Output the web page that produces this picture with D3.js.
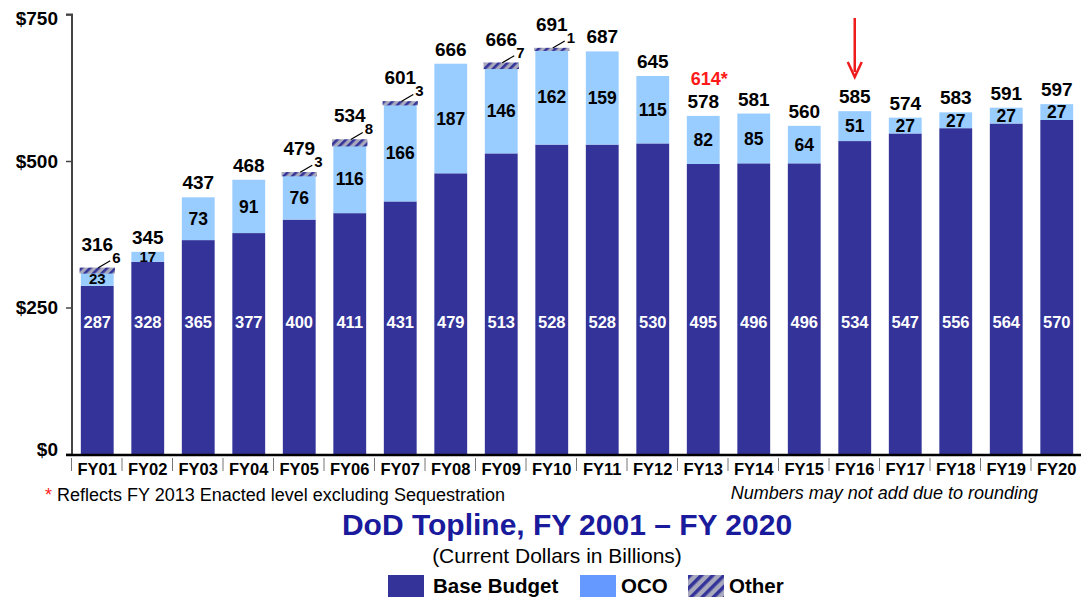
<!DOCTYPE html>
<html>
<head>
<meta charset="utf-8">
<script src="https://cdn.jsdelivr.net/npm/d3@7"></script>
<style>
  body { margin: 0; background: #fff; }
  svg { display: block; font-family: "Liberation Sans", Arial, sans-serif; }
</style>
</head>
<body>
<svg id="chart" width="1081" height="600"></svg>
<script>
// chart values (billions, current dollars)
var years = ["FY01","FY02","FY03","FY04","FY05","FY06","FY07","FY08","FY09","FY10",
             "FY11","FY12","FY13","FY14","FY15","FY16","FY17","FY18","FY19","FY20"];
var baseBudget = [287,328,365,377,400,411,431,479,513,528,528,530,495,496,496,534,547,556,564,570];
var oco        = [23,17,73,91,76,116,166,187,146,162,159,115,82,85,64,51,27,27,27,27];
var other      = [6,0,0,0,3,8,3,0,7,1,0,0,0,0,0,0,0,0,0,0];
var totals     = [316,345,437,468,479,534,601,666,666,691,687,645,578,581,560,585,574,583,591,597];
var yTicks = [0,250,500,750];
var fy13Enacted = "614*";
var arrowYear = "FY16";

var svg = d3.select("#chart");

var x = d3.scaleBand().domain(years).range([72, 1082]).paddingInner(0.35).paddingOuter(0.175);
var y = d3.scaleLinear().domain([0, 750]).range([454, 14.5]);

var defs = svg.append("defs");
var hatch = defs.append("pattern")
  .attr("id", "hatch").attr("patternUnits", "userSpaceOnUse")
  .attr("width", 6).attr("height", 6)
  .attr("patternTransform", "rotate(45)");
hatch.append("rect").attr("width", 6).attr("height", 6).attr("fill", "#a9a9bd");
hatch.append("rect").attr("width", 2.6).attr("height", 6).attr("fill", "#333399");

var rows = years.map(function(yr, i) {
  return { yr: yr, base: baseBudget[i], oco: oco[i], other: other[i], total: totals[i] };
});

// base bars
svg.append("g").selectAll("rect").data(rows).join("rect")
  .attr("x", function(d) { return x(d.yr); })
  .attr("width", x.bandwidth())
  .attr("y", function(d) { return y(d.base); })
  .attr("height", function(d) { return y(0) - y(d.base); })
  .attr("fill", "#333399");

// oco
svg.append("g").selectAll("rect").data(rows).join("rect")
  .attr("x", function(d) { return x(d.yr); })
  .attr("width", x.bandwidth())
  .attr("y", function(d) { return y(d.base + d.oco); })
  .attr("height", function(d) { return y(d.base) - y(d.base + d.oco); })
  .attr("fill", "#99ccff");

// other (hatched)
svg.append("g").selectAll("rect").data(rows.filter(function(d) { return d.other > 0; })).join("rect")
  .attr("x", function(d) { return x(d.yr); })
  .attr("width", x.bandwidth())
  .attr("y", function(d) { return y(d.base + d.oco + d.other); })
  .attr("height", function(d) { return y(d.base + d.oco) - y(d.base + d.oco + d.other); })
  .attr("fill", "url(#hatch)")
  .attr("stroke", "url(#hatch)").attr("stroke-width", 2.5);

// y axis
var yAxis = svg.append("g").attr("transform", "translate(72,0)")
  .call(d3.axisLeft(y).tickValues(yTicks).tickSize(6).tickFormat(function(d) { return "$" + d; }));
yAxis.select(".domain").attr("stroke", "#444").attr("stroke-width", 2)
  .attr("d", "M-6," + y(750) + "H0V" + y(0));
yAxis.selectAll(".tick line").attr("stroke", "#444").attr("stroke-width", 1.5);
yAxis.selectAll(".tick text").attr("x", -14).attr("font-size", 19).attr("font-weight", "bold")
  .attr("fill", "#000").attr("font-family", "Liberation Sans, Arial, sans-serif")
  .attr("y", function(d) { return d === 750 ? 4 : (d === 0 ? -5 : 0); });

// x axis
var xAxis = svg.append("g").attr("transform", "translate(0,455)")
  .call(d3.axisBottom(x).tickSize(0).tickPadding(5));
xAxis.select(".domain").attr("stroke", "#000").attr("stroke-width", 2.5)
  .attr("d", "M66,0H1081");
xAxis.selectAll(".tick text").attr("font-size", 16.5).attr("font-weight", "bold")
  .attr("fill", "#000").attr("font-family", "Liberation Sans, Arial, sans-serif").attr("dy", "0.9em");
svg.append("g").selectAll("line").data(years).join("line")
  .attr("x1", function(d) { return x(d) - x.step() * 0.175 - 0.5; })
  .attr("x2", function(d) { return x(d) - x.step() * 0.175 - 0.5; })
  .attr("y1", 458).attr("y2", 471)
  .attr("stroke", "#777").attr("stroke-width", 1);

var cx = function(d) { return x(d.yr) + x.bandwidth() / 2; };

// base labels
svg.append("g").selectAll("text").data(rows).join("text")
  .attr("x", cx).attr("y", 328)
  .attr("text-anchor", "middle").attr("font-size", 16.5).attr("font-weight", "bold")
  .attr("fill", "#fff").text(function(d) { return d.base; });

// oco labels
svg.append("g").selectAll("text").data(rows).join("text")
  .attr("x", cx)
  .attr("y", function(d) { return (y(d.base) + y(d.base + d.oco)) / 2; })
  .attr("dy", "0.36em")
  .attr("text-anchor", "middle")
  .attr("font-size", function(d) { return d.oco < 25 ? 15 : 17.5; })
  .attr("font-weight", "bold").attr("fill", "#000")
  .text(function(d) { return d.oco; });

// totals
svg.append("g").selectAll("text").data(rows).join("text")
  .attr("x", cx)
  .attr("y", function(d) { return y(d.base + d.oco + d.other) - (d.other > 0 ? 18 : 8); })
  .attr("text-anchor", "middle").attr("font-size", 19).attr("font-weight", "bold")
  .attr("fill", "#000").text(function(d) { return d.total; });

// other labels with leader lines
var oth = svg.append("g").selectAll("g").data(rows.filter(function(d) { return d.other > 0; })).join("g");
oth.append("line")
  .attr("x1", function(d) { return cx(d) + 1; })
  .attr("y1", function(d) { return y(d.base + d.oco + d.other) - 1; })
  .attr("x2", function(d) { return cx(d) + 13; })
  .attr("y2", function(d) { return y(d.base + d.oco + d.other) - 8; })
  .attr("stroke", "#000").attr("stroke-width", 1.2);
oth.append("text")
  .attr("x", function(d) { return cx(d) + 15; })
  .attr("y", function(d) { return y(d.base + d.oco + d.other) - 6; })
  .attr("font-size", 15).attr("font-weight", "bold").attr("fill", "#000")
  .text(function(d) { return d.other; });

// FY13 enacted note
var fy13 = rows[years.indexOf("FY13")];
svg.append("text")
  .attr("x", cx(fy13) + 6).attr("y", y(fy13.total) - 30)
  .attr("text-anchor", "middle").attr("font-size", 18).attr("font-weight", "bold")
  .attr("fill", "#ff1a1a").text(fy13Enacted);

// arrow over FY16
var ax = x(arrowYear) + x.bandwidth() / 2;
svg.append("line").attr("x1", ax).attr("x2", ax).attr("y1", 18).attr("y2", 72)
  .attr("stroke", "#ee1c1c").attr("stroke-width", 2.5);
svg.append("path")
  .attr("d", "M" + (ax - 7) + ",62L" + ax + ",77L" + (ax + 7) + ",62")
  .attr("fill", "none").attr("stroke", "#ee1c1c").attr("stroke-width", 2.5);

// footnotes
var fn = svg.append("text").attr("x", 45).attr("y", 501).attr("font-size", 18).attr("fill", "#000");
fn.append("tspan").attr("fill", "#ff1a1a").text("*");
fn.append("tspan").text(" Reflects FY 2013 Enacted level excluding Sequestration");
svg.append("text").attr("x", 1038).attr("y", 499).attr("text-anchor", "end")
  .attr("font-size", 18).attr("font-style", "italic").attr("fill", "#000")
  .text("Numbers may not add due to rounding");

// title
svg.append("text").attr("x", 567).attr("y", 535).attr("text-anchor", "middle")
  .attr("font-size", 30).attr("font-weight", "bold").attr("fill", "#1a1a9c")
  .text("DoD Topline, FY 2001 \u2013 FY 2020");
svg.append("text").attr("x", 557).attr("y", 563).attr("text-anchor", "middle")
  .attr("font-size", 21).attr("fill", "#000")
  .text("(Current Dollars in Billions)");

// legend
var legendItems = [
  { label: "Base Budget", fill: "#333399", x: 388 },
  { label: "OCO", fill: "#6699ff", x: 580 },
  { label: "Other", fill: "url(#hatchLegend)", x: 688 }
];
var hl = defs.append("pattern")
  .attr("id", "hatchLegend").attr("patternUnits", "userSpaceOnUse")
  .attr("width", 8).attr("height", 8)
  .attr("patternTransform", "rotate(45)");
hl.append("rect").attr("width", 8).attr("height", 8).attr("fill", "#a9a9bd");
hl.append("rect").attr("width", 3.5).attr("height", 8).attr("fill", "#333399");

var lg = svg.append("g").selectAll("g").data(legendItems).join("g")
  .attr("transform", function(d) { return "translate(" + d.x + ",575)"; });
lg.append("rect").attr("width", 36).attr("height", 22).attr("fill", function(d) { return d.fill; });
lg.append("text").attr("x", function(d) { return d.label === "Base Budget" ? 45 : 41; })
  .attr("y", 18).attr("font-size", 20.5).attr("font-weight", "bold").attr("fill", "#000")
  .text(function(d) { return d.label; });
</script>
</body>
</html>
